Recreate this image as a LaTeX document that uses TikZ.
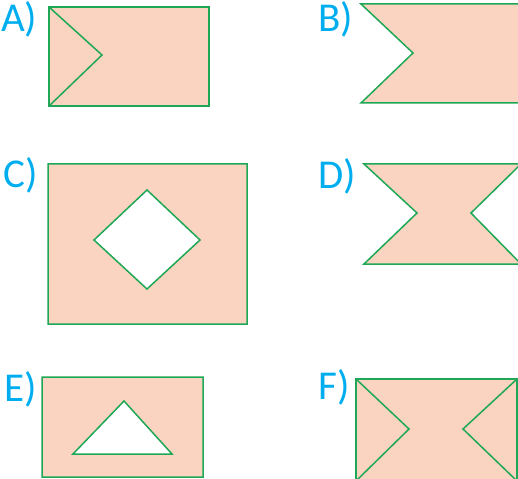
\documentclass[tikz,border=0pt]{standalone}
\usepackage{fontspec}
\setmainfont{Carlito}
\usetikzlibrary{calc}
\definecolor{peach}{RGB}{250,212,192}
\definecolor{leaf}{RGB}{30,168,85}
\definecolor{sky}{RGB}{0,174,239}

\begin{document}
\begin{tikzpicture}[x=1pt,y=-1pt,
    tag/.style={anchor=base west,inner sep=0pt,text=sky,font=\fontsize{41}{41}\selectfont},
    piece/.style={fill=peach,draw=leaf,line width=1.5pt,line join=miter},
    rim/.style={draw=leaf,line width=1.5pt}]
          \useasboundingbox (0,0) rectangle (518,478);
          \clip (0,0) rectangle (518,478);
          \path
            coordinate (a1) at (49,7)
            coordinate (a2) at (209,106)
            coordinate (a3) at (102,55)
            coordinate (a4) at (49,106);
          \path[piece] (a1) rectangle (a2);
          \draw[rim] (a1) -- (a3) -- (a4);
          \path[piece] (361,4) -- (530,4) -- (530,103) -- (361,103) -- (413,53) -- cycle;
          \path[piece,even odd rule] (48,164) rectangle (247,324)
            (147,190) -- (200,240) -- (147,289) -- (94,240) -- cycle;
          \path[piece] (364,164) -- (521,164) -- (471,213) -- (521,264) -- (364,264) -- (417,213) -- cycle;
          \path[piece,even odd rule] (42,377) rectangle (203,477)
            (124,401) -- (172,454) -- (73,454) -- cycle;
          \path
            coordinate (f1) at (356,379)
            coordinate (f2) at (517,481)
            coordinate (f3) at (409,429)
            coordinate (f4) at (463,429);
          \path[piece] (f1) rectangle (f2);
          \draw[rim] (f1) -- (f3) -- (f1|-f2);
          \draw[rim] (f2|-f1) -- (f4) -- (f2);
          \node[tag] (labA) at (1,32) {A)};
          \node[tag] (labB) at (318,32) {B)};
          \node[tag] (labC) at (3,187) {C)};
          \node[tag] (labD) at (318,189) {D)};
          \node[tag] (labE) at (4,401) {E)};
          \node[tag] (labF) at (318,399) {F)};
        \end{tikzpicture}
\end{document}
